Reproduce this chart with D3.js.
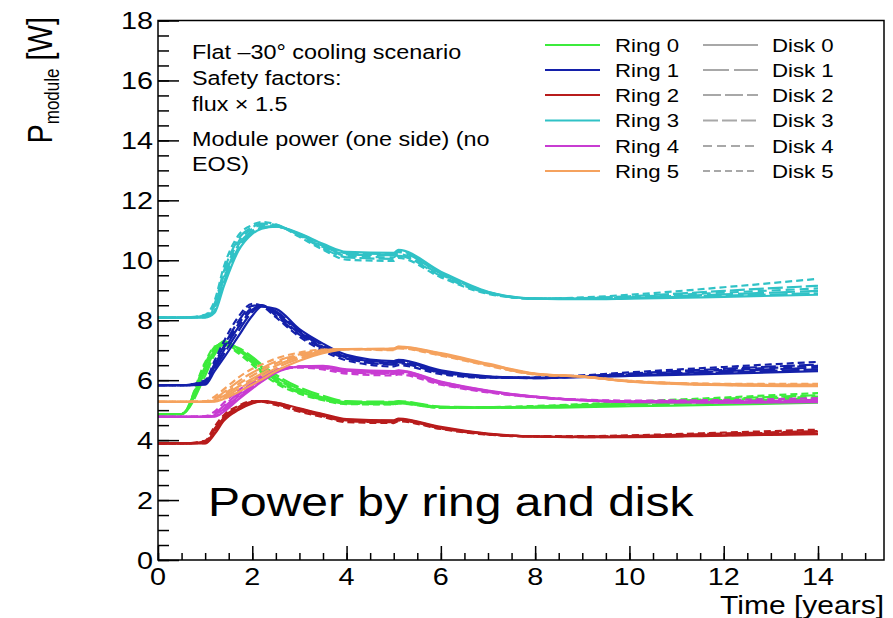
<!DOCTYPE html>
<html>
<head>
<meta charset="utf-8">
<script src="https://cdn.jsdelivr.net/npm/d3@7"></script>
<style>
  body { margin: 0; background: #fff; }
  text { font-family: "Liberation Sans", Arial, sans-serif; fill: #000; }
</style>
</head>
<body>
<script>
// time grid (years)
var times = [0, 0.5, 1.0, 1.2, 1.4, 1.7, 2.0, 2.2, 2.5, 3.0, 3.5, 4.0, 5.0, 5.1, 6.0, 7.0, 8.0, 9.0, 10, 12, 14];

// P_module [W], one array per disk (0..5) for every ring
var ring0 = [
  [4.87,4.87,6.30,6.95,7.30,7.05,6.72,6.45,6.10,5.70,5.42,5.27,5.26,5.28,5.10,5.08,5.08,5.10,5.13,5.18,5.25],
  [4.87,4.87,6.45,7.05,7.25,7.00,6.62,6.35,6.00,5.62,5.38,5.24,5.22,5.25,5.09,5.08,5.10,5.14,5.20,5.30,5.40],
  [4.87,4.87,6.15,6.85,7.20,7.08,6.78,6.52,6.18,5.76,5.48,5.30,5.28,5.30,5.12,5.10,5.10,5.13,5.17,5.25,5.33],
  [4.87,4.87,6.55,7.10,7.22,6.95,6.58,6.30,5.95,5.58,5.35,5.22,5.20,5.23,5.08,5.09,5.12,5.18,5.25,5.38,5.50],
  [4.87,4.87,6.40,7.00,7.28,7.02,6.66,6.40,6.05,5.66,5.40,5.25,5.24,5.27,5.10,5.09,5.11,5.16,5.22,5.34,5.45],
  [4.87,4.87,6.60,7.12,7.18,6.90,6.52,6.25,5.90,5.55,5.33,5.20,5.19,5.22,5.08,5.10,5.14,5.20,5.28,5.42,5.57]
];
var ring1 = [
  [5.83,5.83,5.85,6.30,6.75,7.45,8.15,8.45,8.38,7.70,7.22,6.85,6.64,6.68,6.33,6.13,6.07,6.10,6.14,6.22,6.30],
  [5.83,5.83,5.90,6.45,7.00,7.75,8.35,8.50,8.25,7.60,7.12,6.78,6.58,6.62,6.28,6.10,6.07,6.12,6.18,6.30,6.42],
  [5.83,5.83,5.88,6.38,6.88,7.62,8.28,8.48,8.30,7.65,7.16,6.80,6.60,6.64,6.30,6.12,6.08,6.11,6.16,6.26,6.36],
  [5.83,5.83,5.95,6.55,7.15,7.95,8.48,8.50,8.15,7.52,7.05,6.72,6.52,6.56,6.24,6.09,6.08,6.14,6.22,6.38,6.52],
  [5.83,5.83,5.92,6.50,7.08,7.85,8.42,8.50,8.20,7.56,7.08,6.75,6.55,6.59,6.26,6.10,6.08,6.13,6.20,6.34,6.48],
  [5.83,5.83,6.00,6.65,7.30,8.10,8.55,8.48,8.10,7.45,6.98,6.66,6.46,6.50,6.20,6.08,6.09,6.16,6.26,6.44,6.61]
];
var ring2 = [
  [3.89,3.89,3.89,4.20,4.65,5.00,5.22,5.30,5.25,5.06,4.87,4.70,4.66,4.72,4.44,4.22,4.12,4.10,4.10,4.15,4.20],
  [3.89,3.89,3.92,4.30,4.72,5.05,5.25,5.30,5.22,5.02,4.83,4.66,4.62,4.68,4.41,4.20,4.12,4.11,4.12,4.18,4.25],
  [3.89,3.89,3.90,4.25,4.68,5.02,5.24,5.30,5.24,5.04,4.85,4.68,4.64,4.70,4.42,4.21,4.12,4.10,4.11,4.16,4.22],
  [3.89,3.89,3.95,4.38,4.78,5.10,5.28,5.30,5.20,4.98,4.80,4.63,4.60,4.66,4.39,4.19,4.12,4.12,4.14,4.22,4.30],
  [3.89,3.89,3.93,4.34,4.75,5.08,5.26,5.30,5.21,5.00,4.82,4.65,4.61,4.67,4.40,4.20,4.12,4.11,4.13,4.20,4.28],
  [3.89,3.89,3.98,4.45,4.84,5.14,5.30,5.28,5.17,4.95,4.77,4.60,4.57,4.63,4.37,4.18,4.13,4.13,4.16,4.25,4.35]
];
var ring3 = [
  [8.09,8.09,8.09,8.25,9.15,10.30,10.88,11.05,11.12,10.90,10.55,10.28,10.25,10.35,9.62,8.95,8.72,8.70,8.72,8.78,8.85],
  [8.09,8.09,8.12,8.40,9.40,10.50,10.98,11.12,11.12,10.85,10.48,10.20,10.17,10.27,9.56,8.93,8.72,8.72,8.76,8.86,8.98],
  [8.09,8.09,8.10,8.32,9.28,10.40,10.93,11.08,11.12,10.88,10.52,10.24,10.21,10.31,9.59,8.94,8.72,8.71,8.74,8.82,8.90],
  [8.09,8.09,8.15,8.55,9.65,10.70,11.10,11.22,11.18,10.82,10.40,10.10,10.05,10.15,9.48,8.90,8.72,8.74,8.80,8.98,9.15],
  [8.09,8.09,8.14,8.48,9.52,10.60,11.05,11.18,11.15,10.84,10.44,10.15,10.10,10.20,9.52,8.92,8.72,8.73,8.78,8.92,9.06],
  [8.09,8.09,8.18,8.65,9.80,10.82,11.18,11.28,11.20,10.78,10.35,10.02,9.98,10.08,9.43,8.88,8.72,8.76,8.85,9.10,9.38]
];
var ring4 = [
  [4.78,4.78,4.78,4.78,4.95,5.35,5.72,5.95,6.25,6.45,6.48,6.36,6.30,6.33,5.95,5.65,5.45,5.33,5.27,5.25,5.27],
  [4.78,4.78,4.78,4.82,5.05,5.45,5.82,6.03,6.30,6.45,6.44,6.32,6.26,6.29,5.92,5.63,5.44,5.33,5.28,5.27,5.30],
  [4.78,4.78,4.78,4.80,5.00,5.40,5.78,6.00,6.28,6.45,6.46,6.34,6.28,6.31,5.94,5.64,5.45,5.33,5.28,5.26,5.28],
  [4.78,4.78,4.78,4.88,5.15,5.55,5.90,6.10,6.34,6.44,6.40,6.27,6.21,6.24,5.88,5.61,5.43,5.34,5.30,5.30,5.34],
  [4.78,4.78,4.78,4.85,5.10,5.50,5.86,6.06,6.32,6.45,6.42,6.30,6.24,6.27,5.90,5.62,5.44,5.33,5.29,5.28,5.32],
  [4.78,4.78,4.80,4.95,5.25,5.65,5.98,6.15,6.36,6.42,6.36,6.22,6.16,6.19,5.85,5.59,5.43,5.35,5.32,5.34,5.40]
];
var ring5 = [
  [5.28,5.28,5.28,5.28,5.38,5.60,5.85,6.02,6.30,6.65,6.90,7.03,7.05,7.12,6.90,6.55,6.22,6.12,5.95,5.83,5.80],
  [5.28,5.28,5.28,5.32,5.48,5.78,6.05,6.22,6.48,6.78,6.96,7.04,7.04,7.10,6.87,6.52,6.21,6.12,5.96,5.85,5.82],
  [5.28,5.28,5.28,5.30,5.43,5.70,5.96,6.13,6.40,6.72,6.93,7.04,7.05,7.11,6.88,6.53,6.21,6.12,5.96,5.84,5.81],
  [5.28,5.28,5.28,5.38,5.60,5.95,6.25,6.40,6.62,6.86,7.00,7.04,7.02,7.08,6.84,6.50,6.20,6.12,5.97,5.87,5.85],
  [5.28,5.28,5.28,5.35,5.54,5.86,6.15,6.32,6.56,6.82,6.98,7.04,7.03,7.09,6.85,6.51,6.20,6.12,5.97,5.86,5.84],
  [5.28,5.28,5.30,5.45,5.70,6.08,6.38,6.52,6.72,6.92,7.02,7.03,7.00,7.06,6.82,6.48,6.19,6.12,5.98,5.88,5.88]
];

var ringNames = ["Ring 0", "Ring 1", "Ring 2", "Ring 3", "Ring 4", "Ring 5"];
var diskNames = ["Disk 0", "Disk 1", "Disk 2", "Disk 3", "Disk 4", "Disk 5"];
var xTicks = [0, 2, 4, 6, 8, 10, 12, 14];
var yTicks = [0, 2, 4, 6, 8, 10, 12, 14, 16, 18];
var infoLines = ["Flat \u201330\u00b0 cooling scenario", "Safety factors:", "flux \u00d7 1.5", "Module power (one side) (no", "EOS)"];

var rings = [ring0, ring1, ring2, ring3, ring4, ring5];
var ringColors = ["#3ceb3c", "#1420aa", "#b81c1c", "#30c2c6", "#c83cd2", "#f5a25e"];
var dashes = [null, "26,5", "18,4", "15,4", "9,5", "7,4"];

var w = 893, h = 618;
var frame = {left: 158, right: 884, top: 20.5, bottom: 560};
var SX = 1.2; // text in the picture is stretched sideways

var x = d3.scaleLinear().domain([0, 15.4]).range([frame.left, frame.right]);
var y = d3.scaleLinear().domain([0, 18]).range([frame.bottom, frame.top]);

var svg = d3.select("body").append("svg")
  .attr("width", w)
  .attr("height", h);

function label(str, px, py, size, anchor){
  return svg.append("text")
    .attr("transform", "translate(" + px + "," + py + ") scale(" + SX + ",1)")
    .attr("text-anchor", anchor || "start")
    .style("font-size", size + "px")
    .text(str);
}

// curves
var line = d3.line()
  .x(function(d, i){ return x(times[i]); })
  .y(function(d){ return y(d); })
  .curve(d3.curveMonotoneX);

var plot = svg.append("g").classed("curves", true);
rings.forEach(function(disks, r){
  disks.forEach(function(vals, k){
    plot.append("path")
      .datum(vals)
      .attr("d", line)
      .attr("fill", "none")
      .attr("stroke", ringColors[r])
      .attr("stroke-width", 2.2)
      .attr("stroke-dasharray", dashes[k]);
  });
});

// axes (ticks inside the frame, ROOT style)
function ticks(axis, values, size, tr){
  var g = svg.append("g")
    .attr("transform", tr)
    .call(axis.tickValues(values).tickSize(-size).tickFormat(""));
  g.select(".domain").remove();
  g.selectAll("line").attr("stroke", "#000").attr("stroke-width", 1.5);
}
ticks(d3.axisBottom(x), xTicks, 14, "translate(0," + frame.bottom + ")");
ticks(d3.axisBottom(x), d3.range(0, 15.3, 0.5), 7, "translate(0," + frame.bottom + ")");
ticks(d3.axisLeft(y), yTicks, 21, "translate(" + frame.left + ",0)");
ticks(d3.axisLeft(y), d3.range(0, 18.1, 0.5), 11, "translate(" + frame.left + ",0)");

svg.append("rect")
  .attr("x", frame.left).attr("y", frame.top)
  .attr("width", frame.right - frame.left)
  .attr("height", frame.bottom - frame.top)
  .attr("fill", "none")
  .attr("stroke", "#000")
  .attr("stroke-width", 1.5);

// tick labels
xTicks.forEach(function(t){ label(t, x(t), 585, 24, "middle"); });
yTicks.forEach(function(t){ label(t, 153, y(t) + 8.5, 24, "end"); });

// axis titles
label("Time [years]", 884, 614, 25, "end");
var yt = svg.append("text")
  .attr("transform", "translate(52,17) scale(" + SX + ",1) rotate(-90)")
  .attr("text-anchor", "end")
  .style("font-size", "29px");
yt.append("tspan").text("P");
yt.append("tspan").attr("dy", 6).style("font-size", "17px").text("module");
yt.append("tspan").attr("dy", -6).text(" [W]");

// info text
var infoY = [59, 85, 111, 146, 171];
infoLines.forEach(function(s, i){ label(s, 192, infoY[i], 19.5); });

// legend
var legY = [45, 70, 95, 120.5, 146, 171];
ringNames.forEach(function(s, i){
  svg.append("line")
    .attr("x1", 545).attr("x2", 600)
    .attr("y1", legY[i]).attr("y2", legY[i])
    .attr("stroke", ringColors[i]).attr("stroke-width", 2);
  label(s, 615, legY[i] + 6.5, 18.5);
});
diskNames.forEach(function(s, i){
  svg.append("line")
    .attr("x1", 703).attr("x2", 758)
    .attr("y1", legY[i]).attr("y2", legY[i])
    .attr("stroke", "#a8a8a8").attr("stroke-width", 1.8)
    .attr("stroke-dasharray", dashes[i]);
  label(s, 772, legY[i] + 6.5, 18.5);
});

// big caption
label("Power by ring and disk", 208, 516, 40);
</script>
</body>
</html>
